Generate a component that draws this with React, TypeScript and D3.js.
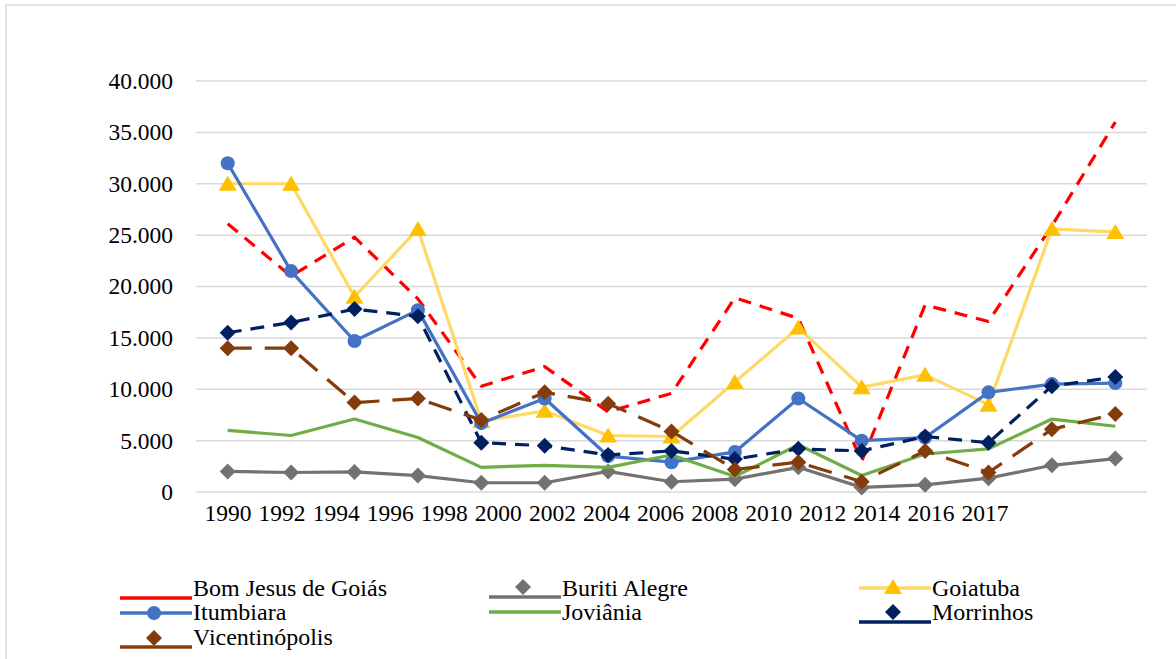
import React from 'react';
import * as d3 from 'd3';

// category labels (as printed under the axis) and values per municipality
const yearLabels = ['1990', '1992', '1994', '1996', '1998', '2000', '2002', '2004', '2006', '2008', '2010', '2012', '2014', '2016', '2017'];
const pointIndex = d3.range(15);
const yTicks = [0, 5000, 10000, 15000, 20000, 25000, 30000, 35000, 40000];

const bomJesus = [26100, 21000, 24800, 18800, 10300, 12200, 7800, 9600, 18900, 16900, 3000, 18200, 16600, 25900, 36000];
const buritiAlegre = [2000, 1900, 1950, 1600, 900, 900, 2000, 1000, 1250, 2400, 450, 700, 1350, 2600, 3250];
const goiatuba = [30000, 30000, 19000, 25600, 6900, 7900, 5500, 5400, 10700, 16000, 10200, 11400, 8500, 25600, 25300];
const itumbiara = [32000, 21500, 14700, 17700, 6700, 9100, 3500, 2900, 3900, 9100, 5000, 5300, 9700, 10500, 10600];
const joviania = [6000, 5500, 7100, 5300, 2400, 2600, 2400, 3600, 1500, 4600, 1600, 3700, 4200, 7100, 6400];
const morrinhos = [15500, 16500, 17800, 17100, 4800, 4500, 3600, 4000, 3200, 4200, 4000, 5400, 4800, 10300, 11200];
const vicentinopolis = [14000, 14000, 8700, 9100, 7000, 9700, 8600, 5900, 2200, 2900, 1000, 4000, 1900, 6100, 7600];

type Marker = 'none' | 'circle' | 'triangle' | 'diamond';
interface Series {
  name: string;
  values: number[];
  color: string;
  markerColor: string;
  dash: string | null;
  marker: Marker;
  legendLineDy: number;
  legendMarkerDy: number;
}

const series: Series[] = [
  { name: 'Bom Jesus de Goiás', values: bomJesus, color: '#FF0000', markerColor: '#FF0000', dash: '13,9', marker: 'none', legendLineDy: 2, legendMarkerDy: -8 },
  { name: 'Buriti Alegre', values: buritiAlegre, color: '#767171', markerColor: '#767171', dash: null, marker: 'diamond', legendLineDy: 1, legendMarkerDy: -9 },
  { name: 'Goiatuba', values: goiatuba, color: '#FFD966', markerColor: '#FFC000', dash: null, marker: 'triangle', legendLineDy: -8, legendMarkerDy: -9 },
  { name: 'Itumbiara', values: itumbiara, color: '#4472C4', markerColor: '#4472C4', dash: null, marker: 'circle', legendLineDy: -7, legendMarkerDy: -7 },
  { name: 'Joviânia', values: joviania, color: '#70AD47', markerColor: '#70AD47', dash: null, marker: 'none', legendLineDy: -8, legendMarkerDy: -8 },
  { name: 'Morrinhos', values: morrinhos, color: '#002060', markerColor: '#002060', dash: '14,9', marker: 'diamond', legendLineDy: 2, legendMarkerDy: -8 },
  { name: 'Vicentinópolis', values: vicentinopolis, color: '#843C0C', markerColor: '#843C0C', dash: '24,13', marker: 'diamond', legendLineDy: 2, legendMarkerDy: -7 },
];

const W = 1176;
const H = 659;
const FONT = 'Liberation Serif';

const x = d3.scaleBand<number>().domain(pointIndex).range([196, 1147]);
const xc = (i: number) => (x(i) ?? 0) + x.bandwidth() / 2;
const y = d3.scaleLinear().domain([0, 40000]).range([492, 81]);
const labelX = d3.scalePoint<string>().domain(yearLabels).range([228, 985]);

const fmt = (v: number) => (v === 0 ? '0' : d3.format(',.3f')(v / 1000).replace(/,/g, ''));

function markerPath(m: Marker): string {
  if (m === 'diamond') return 'M0,-8L8,0L0,8L-8,0Z';
  if (m === 'triangle') return 'M0,-8L9,7L-9,7Z';
  return '';
}

function MarkerShape({ m, color, cx, cy }: { m: Marker; color: string; cx: number; cy: number }) {
  if (m === 'none') return null;
  if (m === 'circle') return <circle cx={cx} cy={cy} r={7} fill={color} />;
  return <path d={markerPath(m)} transform={`translate(${cx},${cy})`} fill={color} />;
}

const legendCols = [120, 489, 859];
const legendRows = [596, 620, 645];

export default function App() {
  const line = d3.line<number>().x((_, i) => xc(i)).y((d) => y(d));

  return (
    <svg width={W} height={H} style={{ position: 'absolute', left: 0, top: 0, background: '#fff' }}>
      <rect x={6} y={5} width={W + 10} height={H + 10} fill="none" stroke="#D9D9D9" strokeWidth={1.5} />

      {yTicks.map((t) => (
        <g key={t}>
          <line x1={196} x2={1147} y1={y(t)} y2={y(t)} stroke="#D9D9D9" strokeWidth={1.5} />
          <text x={173} y={y(t)} dy="0.34em" textAnchor="end" fontFamily={FONT} fontSize={23.5} fill="#000">
            {fmt(t)}
          </text>
        </g>
      ))}

      {yearLabels.map((l) => (
        <text key={l} x={labelX(l)} y={521} textAnchor="middle" fontFamily={FONT} fontSize={23.5} fill="#000">
          {l}
        </text>
      ))}

      {series.map((s) => (
        <g key={s.name}>
          <path
            d={line(s.values) ?? ''}
            fill="none"
            stroke={s.color}
            strokeWidth={3.2}
            strokeDasharray={s.dash ?? undefined}
            strokeLinejoin="round"
          />
          {s.values.map((v, i) => (
            <MarkerShape key={i} m={s.marker} color={s.markerColor} cx={xc(i)} cy={y(v)} />
          ))}
        </g>
      ))}

      {series.map((s, k) => {
        const lx = legendCols[k % 3];
        const by = legendRows[Math.floor(k / 3)];
        return (
          <g key={'lg' + s.name}>
            <line x1={lx} x2={lx + 72} y1={by + s.legendLineDy} y2={by + s.legendLineDy} stroke={s.color} strokeWidth={3.5} />
            <MarkerShape m={s.marker} color={s.markerColor} cx={lx + 34} cy={by + s.legendMarkerDy} />
            <text x={lx + 73} y={by} fontFamily={FONT} fontSize={24} fill="#000">
              {s.name}
            </text>
          </g>
        );
      })}
    </svg>
  );
}
